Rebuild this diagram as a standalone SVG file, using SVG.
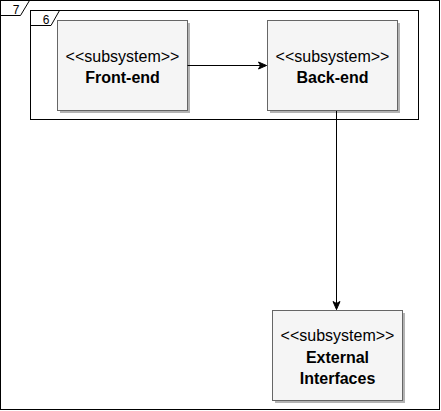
<svg xmlns="http://www.w3.org/2000/svg" width="441" height="411" viewBox="0 0 441 411">
<style>
.frame{fill:none;stroke:#000;stroke-width:1}
.shadow{fill:#b3b3b3}
.box{fill:#f5f5f5;stroke:#666;stroke-width:1}
.st{font-family:"Liberation Sans",Arial,sans-serif;font-size:16px;fill:#000;text-anchor:middle}
.nm{font-family:"Liberation Sans",Arial,sans-serif;font-size:16px;font-weight:bold;fill:#000;text-anchor:middle}
.lbl{font-family:"Liberation Sans",Arial,sans-serif;font-size:12px;fill:#000;text-anchor:middle}
.conn{fill:none;stroke:#000;stroke-width:1}
</style>
<defs>
<marker id="arr" markerWidth="10" markerHeight="10" refX="9" refY="5" orient="auto" markerUnits="userSpaceOnUse">
<path d="M1,1.5 L9,5 L1,8.5 L3,5 z" fill="#000" stroke="#000" stroke-width="1"/>
</marker>
</defs>
<rect width="441" height="411" fill="#fff"/>
<g id="frame7">
<rect class="frame" x="0.5" y="0.5" width="439" height="409"/>
<path class="frame" d="M0.5,15.5 H20.5 L29.5,0.5"/>
<text class="lbl" x="16" y="14">7</text>
</g>
<g id="frame6">
<rect class="frame" x="30.5" y="10.5" width="388" height="109"/>
<path class="frame" d="M30.5,25.5 H51 L59.5,10.5"/>
<text class="lbl" x="46" y="24">6</text>
</g>
<g id="frontend">
<rect class="shadow" x="60" y="23" width="130" height="90"/>
<rect class="box" x="57.5" y="20.5" width="130" height="90"/>
<text class="st" x="122.5" y="62">&lt;&lt;subsystem&gt;&gt;</text>
<text class="nm" x="122.5" y="82.5">Front-end</text>
</g>
<g id="backend">
<rect class="shadow" x="270" y="23" width="130" height="90"/>
<rect class="box" x="267.5" y="20.5" width="130" height="90"/>
<text class="st" x="332.5" y="62">&lt;&lt;subsystem&gt;&gt;</text>
<text class="nm" x="332.5" y="82.5">Back-end</text>
</g>
<g id="external">
<rect class="shadow" x="275" y="313" width="130" height="90"/>
<rect class="box" x="272.5" y="310.5" width="130" height="90"/>
<text class="st" x="337.5" y="341">&lt;&lt;subsystem&gt;&gt;</text>
<text class="nm" x="337.5" y="363">External</text>
<text class="nm" x="337.5" y="383.5">Interfaces</text>
</g>
<g id="connectors">
<path class="conn" d="M187.5,65.5 H266.5" marker-end="url(#arr)"/>
<path class="conn" d="M336.5,111 V309.5" marker-end="url(#arr)"/>
</g>
</svg>
